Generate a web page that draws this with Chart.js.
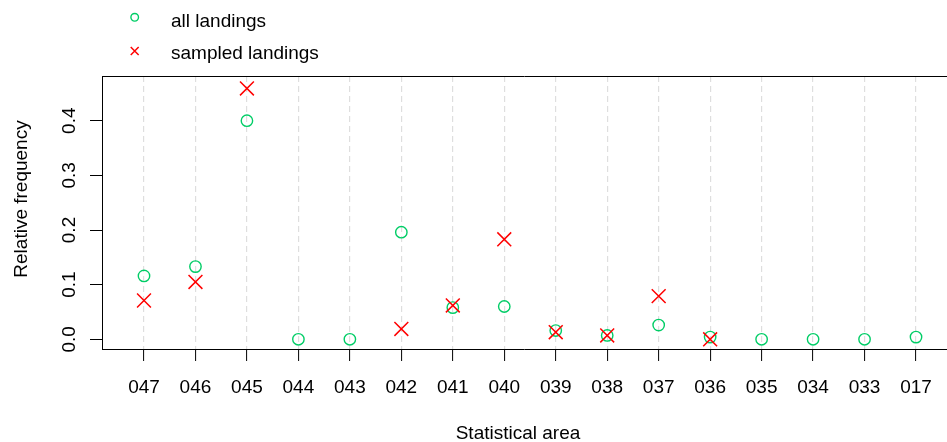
<!DOCTYPE html>
<html>
<head>
<meta charset="utf-8">
<script src="https://cdn.jsdelivr.net/npm/chart.js@4/dist/chart.umd.min.js"></script>
<style>
  html, body { margin: 0; padding: 0; background: #fff; overflow: hidden; }
  #wrap { width: 947px; height: 442px; }
</style>
</head>
<body>
<div id="wrap"><canvas id="c" width="947" height="442"></canvas></div>
<script>
// Statistical areas along the x axis
const areas = ['047', '046', '045', '044', '043', '042', '041', '040', '039', '038', '037', '036', '035', '034', '033', '017'];
// Relative frequency of all landings per area
const allLandings = [0.116, 0.133, 0.400, 0, 0, 0.196, 0.058, 0.060, 0.016, 0.007, 0.026, 0.004, 0, 0, 0, 0.004];
// Relative frequency of sampled landings per area (no sampled landings where null)
const sampledLandings = [0.071, 0.105, 0.459, null, null, 0.019, 0.062, 0.183, 0.013, 0.007, 0.079, 0, null, null, null, null];
// Labelled values on the y axis
const yTicks = [0, 0.1, 0.2, 0.3, 0.4];

const FONT = '"Liberation Sans", Arial, Helvetica, sans-serif';
const GREEN = '#00CD66';
const RED = '#FF0000';

const toPoints = arr => arr.map((v, i) => ({ x: i, y: v })).filter(p => p.y !== null);

// Box top, rotated y labels, axis titles and the stacked legend
const decor = {
  id: 'decor',
  afterDraw(chart) {
    const { ctx, chartArea: a, scales: { y } } = chart;
    ctx.save();
    ctx.strokeStyle = '#000';
    ctx.lineWidth = 1;
    ctx.beginPath();
    ctx.moveTo(a.left, a.top + 0.5);
    ctx.lineTo(a.right, a.top + 0.5);
    ctx.stroke();

    ctx.fillStyle = '#000';
    ctx.font = '19px ' + FONT;
    ctx.textAlign = 'center';
    ctx.textBaseline = 'alphabetic';
    yTicks.forEach(v => {
      ctx.save();
      ctx.translate(75, y.getPixelForValue(v));
      ctx.rotate(-Math.PI / 2);
      ctx.fillText(v.toFixed(1), 0, 0);
      ctx.restore();
    });

    ctx.save();
    ctx.translate(27, 199);
    ctx.rotate(-Math.PI / 2);
    ctx.fillText('Relative frequency', 0, 0);
    ctx.restore();

    ctx.fillText('Statistical area', 518, 438.5);

    // legend
    const items = [
      { ds: chart.data.datasets[1], y: 17.3, r: 3.8, base: 26.8 },
      { ds: chart.data.datasets[0], y: 51, r: 5.6, base: 59 }
    ];
    items.forEach(it => {
      ctx.strokeStyle = it.ds.borderColor;
      ctx.fillStyle = 'rgba(0,0,0,0)';
      ctx.lineWidth = it.ds.borderWidth;
      Chart.helpers.drawPoint(ctx, { pointStyle: it.ds.pointStyle, radius: it.r, rotation: 0, borderWidth: it.ds.borderWidth }, 134.7, it.y);
      ctx.fillStyle = '#000';
      ctx.textAlign = 'left';
      ctx.fillText(it.ds.label, 171, it.base);
    });
    ctx.restore();
  }
};

new Chart(document.getElementById('c'), {
  type: 'scatter',
  data: {
    datasets: [
      {
        label: 'sampled landings',
        data: toPoints(sampledLandings),
        pointStyle: 'crossRot',
        pointRadius: 9.8,
        borderColor: RED,
        backgroundColor: 'rgba(0,0,0,0)',
        borderWidth: 1.5,
        order: 0,
        clip: false
      },
      {
        label: 'all landings',
        data: toPoints(allLandings),
        pointStyle: 'circle',
        pointRadius: 5.7,
        borderColor: GREEN,
        backgroundColor: 'rgba(0,0,0,0)',
        borderWidth: 1.4,
        order: 1,
        clip: false
      }
    ]
  },
  options: {
    responsive: false,
    animation: false,
    events: [],
    layout: { autoPadding: false, padding: { top: 76, left: 0, right: 0, bottom: 0 } },
    plugins: { legend: { display: false }, tooltip: { enabled: false }, title: { display: false } },
    scales: {
      x: {
        type: 'linear',
        min: -0.816,
        max: 15.602,
        afterBuildTicks: s => { s.ticks = areas.map((_, i) => ({ value: i })); },
        afterFit: s => { s.height = 93; s.paddingLeft = 0; s.paddingRight = 0; },
        ticks: {
          callback: v => areas[v],
          font: { family: FONT, size: 19 },
          color: '#000',
          padding: 15,
          maxRotation: 0,
          minRotation: 0,
          autoSkip: false
        },
        grid: {
          color: '#dedede',
          lineWidth: 1.2,
          drawOnChartArea: true,
          drawTicks: true,
          tickLength: 12,
          tickColor: '#000',
          tickWidth: 1,
          tickBorderDash: []
        },
        border: { display: true, color: '#000', width: 1, dash: [6, 4] }
      },
      y: {
        type: 'linear',
        min: -0.01775,
        max: 0.4818,
        afterBuildTicks: s => { s.ticks = yTicks.map(v => ({ value: v })); },
        afterFit: s => { s.width = 102; s.paddingTop = 0; s.paddingBottom = 0; },
        ticks: { display: false },
        grid: {
          drawOnChartArea: false,
          drawTicks: true,
          tickLength: 12,
          tickColor: '#000',
          tickWidth: 1
        },
        border: { display: true, color: '#000', width: 1 }
      }
    }
  },
  plugins: [decor]
});
</script>
</body>
</html>
